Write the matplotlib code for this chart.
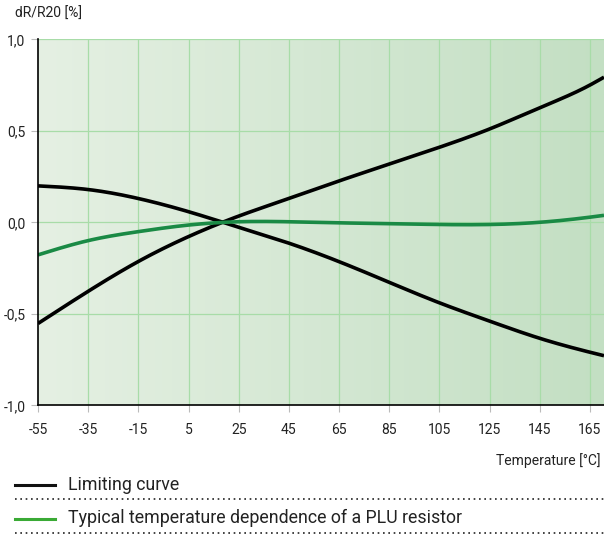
import numpy as np
import matplotlib
matplotlib.use("Agg")
import matplotlib.pyplot as plt
from matplotlib.lines import Line2D

plt.rcParams['font.family'] = ['Roboto', 'DejaVu Sans']

temps = [-55, -35, -15, 5, 25, 45, 65, 85, 105, 125, 145, 165, 170.6]
limit_upper = [-0.553, -0.377, -0.214, -0.078, 0.034, 0.13, 0.226, 0.318, 0.41, 0.51, 0.626, 0.75, 0.793]
limit_lower = [0.199, 0.179, 0.13, 0.058, -0.027, -0.114, -0.215, -0.328, -0.44, -0.54, -0.634, -0.71, -0.729]
typical = [-0.178, -0.10, -0.051, -0.015, 0.003, 0.003, -0.003, -0.007, -0.012, -0.012, 0.0, 0.028, 0.038]

xticks = [-55, -35, -15, 5, 25, 45, 65, 85, 105, 125, 145, 165]
yticks = [-1.0, -0.5, 0.0, 0.5, 1.0]
ytick_labels = ["-1,0", "-0,5", "0,0", "0,5", "1,0"]

fig = plt.figure(figsize=(6.04, 5.35), dpi=100)
ax = fig.add_axes([38/604, 1-405.3/535, 1-38/604, 366/535])
ax.set_xlim(-55, 170.6)
ax.set_ylim(-1.0, 1.0)

# gradient background
c0 = np.array([0xe5, 0xf0, 0xe3]) / 255
c1 = np.array([0xc3, 0xdf, 0xc3]) / 255
t = np.linspace(0, 1, 256)
grad = c0[None, :] * (1 - t[:, None]) + c1[None, :] * t[:, None]
ax.imshow(grad[None, :, :], extent=[0, 1, 0, 1], transform=ax.transAxes,
          aspect='auto', zorder=0)

gc = '#a8dca8'
for x in xticks[1:]:
    ax.axvline(x, color=gc, lw=0.9, zorder=1)
for y in [-0.5, 0.0, 0.5, 1.0]:
    ax.axhline(y, color=gc, lw=0.9, zorder=1)


def natural_spline(xs, ys, n=500):
    xs = np.asarray(xs, float); ys = np.asarray(ys, float)
    k = len(xs)
    h = np.diff(xs)
    A = np.zeros((k, k)); b = np.zeros(k)
    A[0, 0] = 1; A[-1, -1] = 1
    for i in range(1, k - 1):
        A[i, i - 1] = h[i - 1]
        A[i, i] = 2 * (h[i - 1] + h[i])
        A[i, i + 1] = h[i]
        b[i] = 3 * ((ys[i + 1] - ys[i]) / h[i] - (ys[i] - ys[i - 1]) / h[i - 1])
    c = np.linalg.solve(A, b)
    bb = (ys[1:] - ys[:-1]) / h - h * (2 * c[:-1] + c[1:]) / 3
    d = (c[1:] - c[:-1]) / (3 * h)
    xx = np.linspace(xs[0], xs[-1], n)
    idx = np.clip(np.searchsorted(xs, xx) - 1, 0, k - 2)
    dx = xx - xs[idx]
    yy = ys[idx] + bb[idx] * dx + c[idx] * dx**2 + d[idx] * dx**3
    return xx, yy

for ys, col in [(limit_upper, 'black'), (limit_lower, 'black'), (typical, '#1a8a45')]:
    xx, yy = natural_spline(temps, ys)
    ax.plot(xx, yy, color=col, lw=2.6, zorder=3, solid_capstyle='butt')

ax.set_xticks(xticks)
ax.set_xticklabels([str(v) for v in xticks])
ax.set_yticks(yticks)
ax.set_yticklabels(ytick_labels)
ax.tick_params(axis='both', colors='#bbbbbb', labelcolor='#222222', labelsize=10,
               length=5, width=0.8)
ax.tick_params(axis='x', pad=8)
ax.tick_params(axis='y', pad=4)
for s in ['top', 'right']:
    ax.spines[s].set_visible(False)
for s in ['left', 'bottom']:
    ax.spines[s].set_color('black')
    ax.spines[s].set_linewidth(1.2)
    ax.spines[s].set_zorder(4)

fig.text(15/604, 1-14/535, "dR/R20 [%]", fontsize=10, color='#222222', va='center', ha='left')
fig.text(601/604, 1-461/535, "Temperature [°C]", fontsize=10, color='#222222', va='center', ha='right')

# legend
fig.add_artist(Line2D([15/604, 55/604], [1-485/535]*2, color='#111111', lw=2.2))
fig.text(68/604, 1-485/535, "Limiting curve", fontsize=12.8, color='#222222', va='center', ha='left')
fig.add_artist(Line2D([15/604, 604/604], [1-499/535]*2, color='#222222', lw=1.2, ls=(0, (1, 2.2))))
fig.add_artist(Line2D([15/604, 55/604], [1-519/535]*2, color='#3aaa35', lw=2.2))
fig.text(68/604, 1-518/535, "Typical temperature dependence of a PLU resistor", fontsize=12.8, color='#222222', va='center', ha='left')
fig.add_artist(Line2D([15/604, 604/604], [1-533/535]*2, color='#222222', lw=1.2, ls=(0, (1, 2.2))))

fig.savefig("out.png", dpi=100)
